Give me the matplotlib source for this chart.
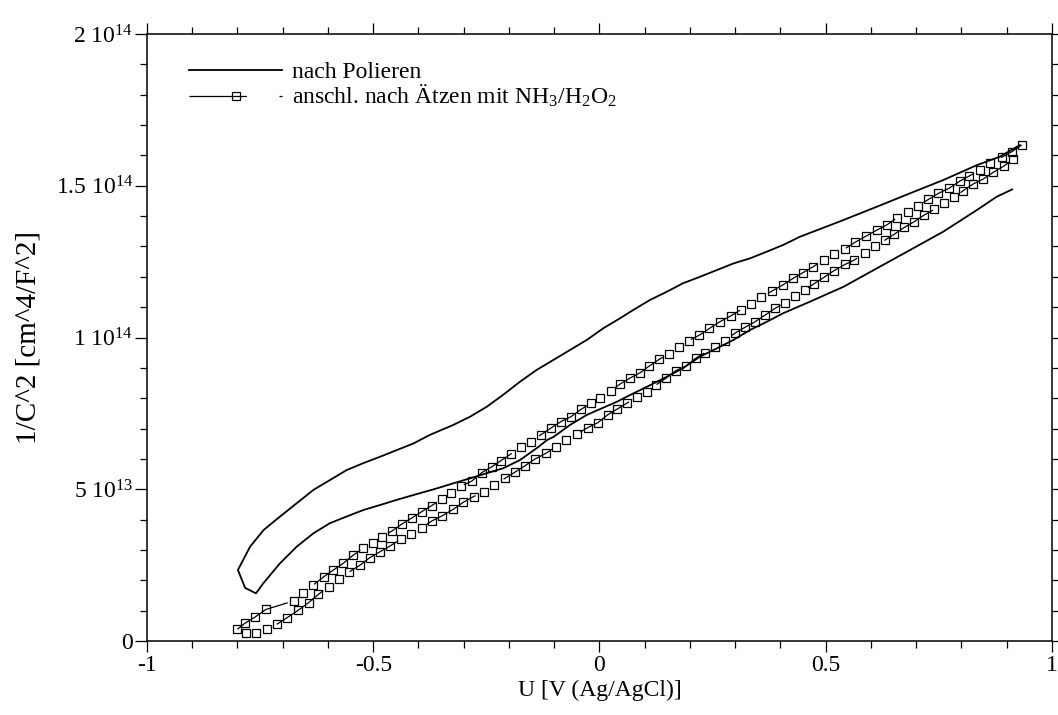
import numpy as np
import matplotlib
matplotlib.use("Agg")
import matplotlib.pyplot as plt
from matplotlib.ticker import MultipleLocator

plt.rcParams['font.family'] = ['Liberation Serif', 'DejaVu Serif']
plt.rcParams['mathtext.fontset'] = 'custom'
plt.rcParams['mathtext.rm'] = 'Liberation Serif'
plt.rcParams['mathtext.it'] = 'Liberation Serif:italic'
plt.rcParams['mathtext.bf'] = 'Liberation Serif:bold'

# Polished sample: one loop (lower branch right->left, then upper branch left->right), y in 1e13 cm^4/F^2
pol_u = [0.912, 0.878, 0.834, 0.760, 0.686, 0.613, 0.539, 0.465, 0.406, 0.370,
         0.333, 0.296, 0.259, 0.222, 0.185, 0.149, 0.112, 0.075, 0.038, 0.001,
         -0.028, -0.065, -0.101, -0.116, -0.139, -0.176, -0.213, -0.249, -0.286, -0.322,
         -0.359, -0.397, -0.411, -0.448, -0.485, -0.521, -0.559, -0.596, -0.632, -0.669,
         -0.706, -0.743, -0.759, -0.783, -0.799,
         -0.772, -0.742, -0.706, -0.669, -0.632, -0.596, -0.559, -0.522, -0.485, -0.448,
         -0.411, -0.375, -0.323, -0.286, -0.249, -0.213, -0.176, -0.139, -0.102, -0.065,
         -0.028, 0.008, 0.045, 0.075, 0.112, 0.149, 0.185, 0.222, 0.259, 0.296,
         0.333, 0.370, 0.406, 0.443, 0.539, 0.613, 0.686, 0.760, 0.834, 0.885, 0.929]
pol_y = [14.88, 14.64, 14.20, 13.49, 12.88, 12.28, 11.67, 11.18, 10.80, 10.52,
         10.25, 9.92, 9.64, 9.37, 8.99, 8.71, 8.43, 8.16, 7.88, 7.64,
         7.45, 7.12, 6.73, 6.62, 6.35, 5.96, 5.69, 5.53, 5.36, 5.20,
         5.03, 4.87, 4.81, 4.65, 4.48, 4.32, 4.10, 3.88, 3.55, 3.11,
         2.56, 1.90, 1.57, 1.75, 2.34,
         3.11, 3.66, 4.10, 4.54, 4.98, 5.30, 5.63, 5.86, 6.07, 6.29,
         6.51, 6.79, 7.12, 7.39, 7.72, 8.11, 8.54, 8.93, 9.26, 9.59,
         9.92, 10.30, 10.63, 10.91, 11.24, 11.51, 11.79, 12.00, 12.22, 12.44,
         12.61, 12.83, 13.05, 13.32, 13.87, 14.31, 14.75, 15.19, 15.68, 15.96, 16.34]

# Etched sample, upper branch
etch_up_u = [-0.800, -0.783, -0.761, -0.737, -0.676, -0.655, -0.632, -0.609, -0.588, -0.566,
             -0.545, -0.523, -0.501, -0.481, -0.459, -0.436, -0.414, -0.393, -0.371, -0.349,
             -0.327, -0.305, -0.282, -0.260, -0.238, -0.218, -0.196, -0.174, -0.152, -0.130,
             -0.108, -0.085, -0.063, -0.041, -0.019, 0.002, 0.025, 0.046, 0.067, 0.090,
             0.110, 0.132, 0.154, 0.176, 0.198, 0.221, 0.243, 0.266, 0.290, 0.312,
             0.335, 0.358, 0.381, 0.405, 0.428, 0.450, 0.472, 0.496, 0.518, 0.543,
             0.565, 0.589, 0.613, 0.635, 0.658, 0.681, 0.703, 0.727, 0.749, 0.773,
             0.797, 0.817, 0.841, 0.863, 0.889, 0.911, 0.933]
etch_up_y = [0.39, 0.59, 0.79, 1.04, 1.32, 1.59, 1.85, 2.12, 2.34, 2.56,
             2.82, 3.05, 3.24, 3.44, 3.62, 3.86, 4.06, 4.26, 4.46, 4.67,
             4.89, 5.11, 5.27, 5.55, 5.74, 5.94, 6.16, 6.38, 6.57, 6.79,
             7.01, 7.23, 7.39, 7.63, 7.83, 8.01, 8.25, 8.47, 8.66, 8.84,
             9.06, 9.28, 9.46, 9.68, 9.90, 10.08, 10.30, 10.52, 10.71, 10.91,
             11.10, 11.32, 11.53, 11.73, 11.95, 12.14, 12.33, 12.55, 12.75, 12.93,
             13.14, 13.34, 13.54, 13.71, 13.95, 14.14, 14.33, 14.55, 14.75, 14.92,
             15.16, 15.32, 15.52, 15.76, 15.94, 16.12, 16.34]

# Etched sample, lower branch
etch_dn_u = [-0.781, -0.758, -0.734, -0.712, -0.690, -0.666, -0.643, -0.621, -0.598, -0.576,
             -0.553, -0.530, -0.508, -0.485, -0.463, -0.439, -0.417, -0.393, -0.371, -0.347,
             -0.323, -0.301, -0.278, -0.255, -0.233, -0.209, -0.187, -0.165, -0.143, -0.119,
             -0.096, -0.074, -0.050, -0.026, -0.004, 0.018, 0.039, 0.060, 0.082, 0.104,
             0.125, 0.147, 0.169, 0.191, 0.213, 0.233, 0.255, 0.277, 0.299, 0.322,
             0.344, 0.366, 0.388, 0.410, 0.432, 0.454, 0.474, 0.496, 0.518, 0.543,
             0.563, 0.587, 0.609, 0.631, 0.651, 0.674, 0.696, 0.718, 0.740, 0.762,
             0.784, 0.804, 0.826, 0.848, 0.870, 0.895, 0.914]
etch_dn_y = [0.25, 0.26, 0.39, 0.56, 0.77, 1.01, 1.26, 1.54, 1.79, 2.03,
             2.28, 2.49, 2.74, 2.94, 3.13, 3.35, 3.52, 3.73, 3.95, 4.13,
             4.34, 4.57, 4.76, 4.92, 5.14, 5.36, 5.56, 5.77, 5.99, 6.18,
             6.40, 6.62, 6.82, 7.03, 7.19, 7.45, 7.64, 7.83, 8.03, 8.21,
             8.44, 8.66, 8.91, 9.06, 9.32, 9.50, 9.70, 9.90, 10.14, 10.34,
             10.52, 10.74, 10.96, 11.15, 11.37, 11.57, 11.77, 11.98, 12.20, 12.41,
             12.55, 12.79, 13.01, 13.21, 13.40, 13.63, 13.82, 14.04, 14.22, 14.44,
             14.62, 14.84, 15.06, 15.22, 15.44, 15.66, 15.88]

x_ticks = [-1, -0.5, 0, 0.5, 1]
x_tick_labels = ['-1', '-0.5', '0', '0.5', '1']
y_ticks = [0, 5e13, 1e14, 1.5e14, 2e14]
y_tick_labels = ['0', r'$\mathrm{5\ 10^{13}}$', r'$\mathrm{1\ 10^{14}}$',
                 r'$\mathrm{1.5\ 10^{14}}$', r'$\mathrm{2\ 10^{14}}$']

scale = 1e13

fig = plt.figure(figsize=(10.58, 7.15), dpi=100)
ax = fig.add_axes([0.1389, 0.1035, 0.8554, 0.8489])

ax.plot(pol_u, np.array(pol_y) * scale, color='black', lw=1.3,
        label='nach Polieren')

ax.plot(etch_up_u, np.array(etch_up_y) * scale, color='black', lw=0.9,
        linestyle=(0, (46, 26)), marker='s', ms=5.2, mfc='none', mec='black', mew=0.9,
        label='anschl. nach Ätzen mit NH$_3$/H$_2$O$_2$')
ax.plot(etch_dn_u, np.array(etch_dn_y) * scale, color='black', lw=0.9,
        linestyle=(46, (46, 26)), marker='s', ms=5.2, mfc='none', mec='black', mew=0.9)

ax.set_xlim(-1, 1)
ax.set_ylim(0, 2e14)
ax.set_xticks(x_ticks)
ax.set_xticklabels(x_tick_labels)
ax.set_yticks(y_ticks)
ax.set_yticklabels(y_tick_labels)
ax.xaxis.set_minor_locator(MultipleLocator(0.1))
ax.yaxis.set_minor_locator(MultipleLocator(1e13))

ax.tick_params(axis='both', which='both', direction='out', top=True, right=True,
               labelsize=17, width=0.9)
ax.tick_params(axis='x', which='major', length=8, pad=2)
ax.tick_params(axis='x', which='minor', length=5)
ax.tick_params(axis='y', which='major', length=9, pad=1)
ax.tick_params(axis='y', which='minor', length=5)
for s in ax.spines.values():
    s.set_linewidth(1.1)

ax.set_xlabel('U [V (Ag/AgCl)]', fontsize=17, labelpad=3)
ax.set_ylabel('1/C^2 [cm^4/F^2]', fontsize=21, labelpad=10)

ax.legend(loc='upper left', bbox_to_anchor=(0.047, 0.955), frameon=False,
          fontsize=17, handlelength=3.9, handletextpad=0.45, numpoints=1,
          borderpad=0, borderaxespad=0, labelspacing=0.0)

fig.savefig('out.png', dpi=100)
